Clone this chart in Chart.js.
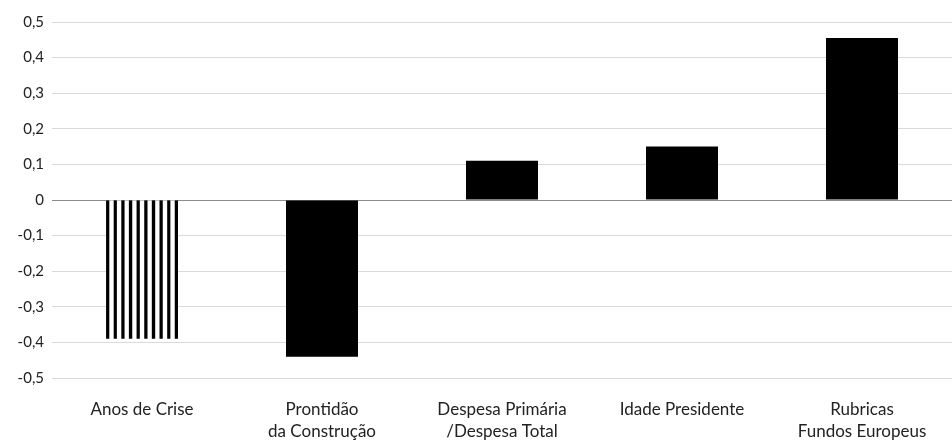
<!DOCTYPE html>
<html>
<head>
  <meta charset="UTF-8">
  <title>Coeficientes</title>
  <script src="https://cdn.jsdelivr.net/npm/chart.js"></script>
  <style>
    html, body { margin: 0; padding: 0; background: #fff; }
    #wrap { width: 952px; height: 441px; }
  </style>
</head>
<body>
  <div id="wrap"><canvas id="myChart"></canvas></div>

  <script>
    const categories = [
      'Anos de Crise',
      ['Prontidão', 'da Construção'],
      ['Despesa Primária', '/Despesa Total'],
      'Idade Presidente',
      ['Rubricas', 'Fundos Europeus']
    ];
    const values = [-0.39, -0.44, 0.11, 0.15, 0.455];
    const yTicks = [-0.5, -0.4, -0.3, -0.2, -0.1, 0, 0.1, 0.2, 0.3, 0.4, 0.5];

    // vertical stripes for the first bar (10 stripes across the bar)
    const tile = document.createElement('canvas');
    tile.width = 7; tile.height = 10;
    const tg = tile.getContext('2d');
    tg.fillStyle = '#fff';
    tg.fillRect(0, 0, 7, 10);
    tg.fillStyle = '#000';
    tg.fillRect(0, 0, 3, 10);
    const stripe = tg.createPattern(tile, 'repeat');

    const colors = values.map((v, i) => i === 0 ? stripe : '#000');

    // line the stripes up with the striped bar's edges
    const alignStripes = {
      id: 'alignStripes',
      beforeDatasetsDraw(chart) {
        const bar = chart.getDatasetMeta(0).data[0];
        const left = bar.x - bar.width / 2;
        const k = bar.width / 66;
        stripe.setTransform(new DOMMatrix().translateSelf(left, 0).scaleSelf(k, 1));
      }
    };

    new Chart(document.getElementById('myChart'), {
      type: 'bar',
      data: {
        labels: categories,
        datasets: [{
          data: values,
          backgroundColor: colors,
          borderWidth: 0,
          categoryPercentage: 0.8,
          barPercentage: 0.5
        }]
      },
      options: {
        responsive: true,
        maintainAspectRatio: false,
        animation: false,
        layout: { padding: { top: 22, right: 0, bottom: 0, left: 0 } },
        plugins: {
          legend: { display: false },
          tooltip: { enabled: false }
        },
        scales: {
          x: {
            afterFit: s => { s.height = 63; },
            grid: { display: false, drawTicks: false },
            border: { display: false },
            ticks: {
              color: '#222',
              font: { family: 'Lato', size: 17, lineHeight: 1.3 },
              padding: 20,
              maxRotation: 0
            }
          },
          y: {
            min: -0.5,
            max: 0.5,
            afterFit: s => { s.width = 52; },
            afterBuildTicks: s => { s.ticks = yTicks.map(v => ({ value: v })); },
            border: { display: false },
            grid: {
              color: ctx => ctx.tick && ctx.tick.value === 0 ? '#8c8c8c' : '#d9d9d9',
              drawTicks: false
            },
            ticks: {
              color: '#222',
              font: { family: 'Lato', size: 15 },
              padding: 8,
              callback: v => String(Math.round(v * 10) / 10).replace('.', ',')
            }
          }
        }
      },
      plugins: [alignStripes]
    });
  </script>
</body>
</html>
